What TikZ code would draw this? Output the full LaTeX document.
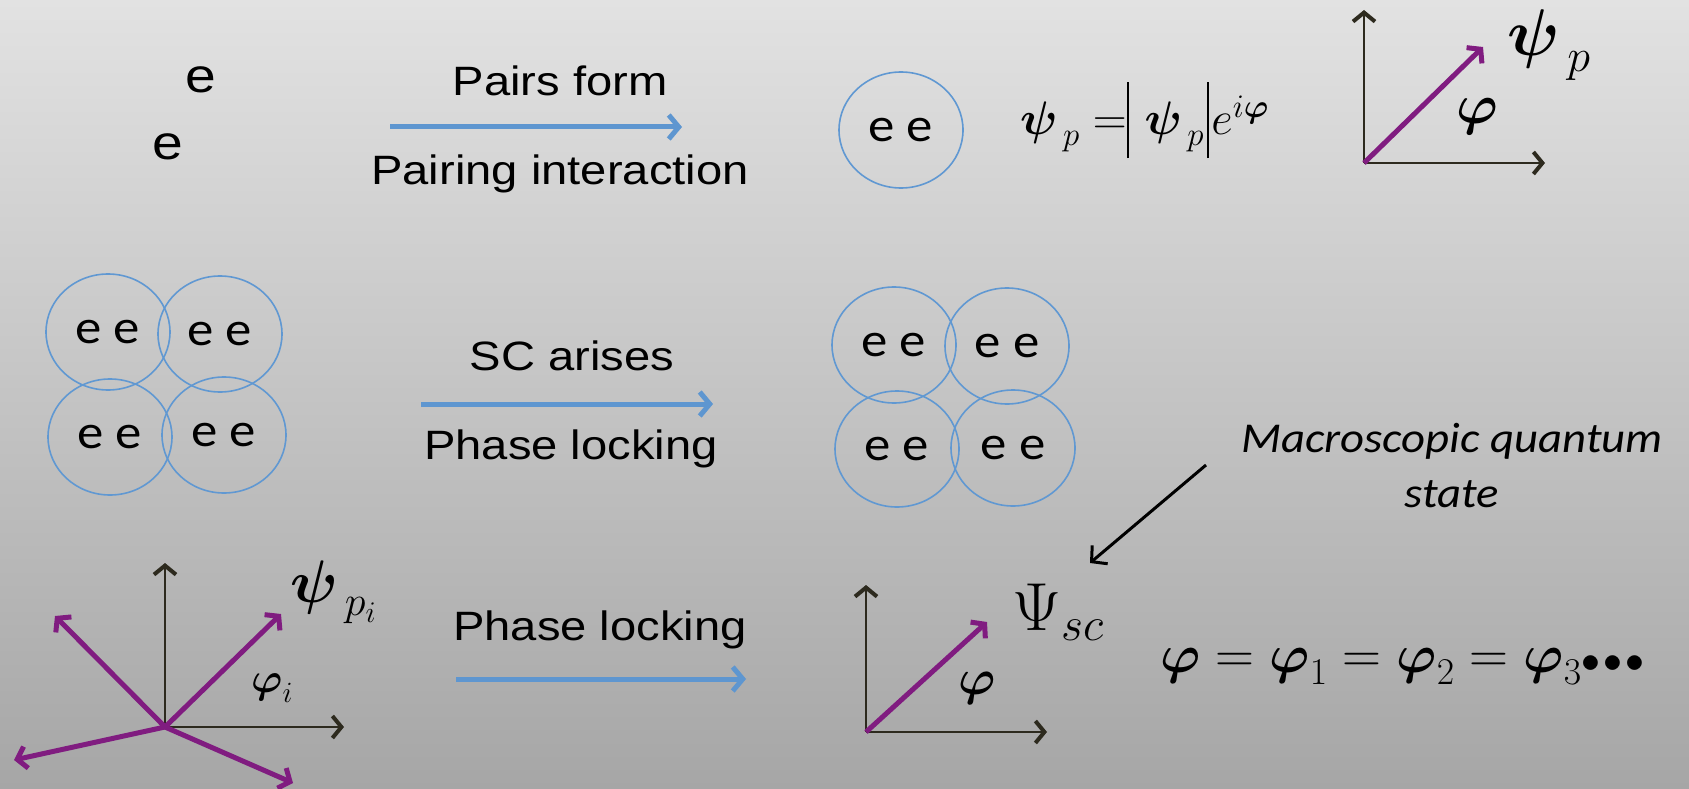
\RequirePackage{fix-cm}
\documentclass[tikz,border=0pt]{standalone}
\usepackage{amsmath}
\usepackage{fontspec}
\setmainfont{Liberation Sans}[FakeStretch=1.15]
\newfontfamily\pairfont{Carlito}[FakeStretch=1.1]
\usetikzlibrary{positioning}
\usetikzlibrary{shapes.geometric,arrows.meta}
\definecolor{bgtop}{RGB}{226,226,226}
\definecolor{bgbottom}{RGB}{166,166,166}
\definecolor{ringblue}{RGB}{96,152,210}
\definecolor{flowblue}{RGB}{94,150,208}
\definecolor{phasepurple}{RGB}{128,28,128}
\definecolor{axisdark}{RGB}{45,42,30}
\newcommand{\bpsi}{\boldsymbol{\psi}}
\newcommand{\bphi}{\boldsymbol{\varphi}}
\newcommand{\modbar}{\vrule width 2.2pt height 1.13em depth 0.49em}
\newcommand{\dotrow}{\mathord{\scriptstyle\bullet}\mkern1mu\mathord{\scriptstyle\bullet}\mkern1mu\mathord{\scriptstyle\bullet}}
\tikzset{
  pair/.style={ellipse, draw=ringblue, line width=1.6pt, minimum width=124pt, minimum height=116pt, inner sep=0pt, font=\pairfont\fontsize{48}{48}\selectfont},
  flow/.style={draw=flowblue, line width=5pt, -{Straight Barb[length=10pt,width=24pt]}},
  axisline/.style={draw=axisdark, line width=2pt, -{Straight Barb[length=9pt,width=22pt,line width=4pt]}},
  phase/.style={draw=phasepurple, line width=5pt, -{Straight Barb[length=9pt,width=22pt]}},
  phrase/.style={inner sep=0pt, font=\fontsize{41}{41}\selectfont},
  formula/.style={inner sep=0pt}
}

\begin{document}
\begin{tikzpicture}[x=1pt,y=-1pt]
    \useasboundingbox (0,0) rectangle (1689,789);
    \shade[top color=bgtop, bottom color=bgbottom] (0,0) rectangle (1689,789);

    % first row: two electrons form a pair
    \node[inner sep=0pt, font=\fontsize{48}{48}\selectfont] (eup) at (201,80) {e};
    \node[inner sep=0pt, font=\fontsize{48}{48}\selectfont] (edown) at (168,147) {e};

    \node[phrase, anchor=base] (pairsform) at (560,96) {Pairs form};
    \coordinate (formstart) at (390,127);
    \coordinate (formend) at (682,127);
    \draw[flow] (formstart) -- (formend);
    \node[phrase, anchor=base] (pairing) at (560,184) {Pairing interaction};

    \node[pair] (single) at (901,130) {e e};

    \node[formula, anchor=base west, font=\fontsize{47}{47}\selectfont] (psipair) at (1020,135) {$\bpsi_{\,p} = \modbar\mkern1mu\bpsi_{\,p}\mkern1mu\modbar\mkern1mu e^{i\bphi}$};

    \coordinate (toporigin) at (1364,163);
    \coordinate (topup) at (1364,10);
    \coordinate (topright) at (1545,163);
    \coordinate (toptip) at (1483,47);
    \draw[axisline] (toporigin) -- (topup);
    \draw[axisline] (toporigin) -- (topright);
    \draw[phase] (toporigin) -- (toptip);
    \node[formula, font=\fontsize{56}{56}\selectfont] (topphi) at (1477,117) {$\bphi$};
    \node[formula, anchor=base west, font=\fontsize{66}{66}\selectfont] (toppsi) at (1507,56) {$\bpsi_{\,p}$};

    % second row: the pairs lock their phase
    \node[pair] (lefttl) at (108,332) {e e};
    \node[pair] (lefttr) at (220,334) {e e};
    \node[pair] (leftbl) at (110,437) {e e};
    \node[pair] (leftbr) at (224,435) {e e};

    \node[phrase, anchor=base] (arises) at (572,370) {SC arises};
    \coordinate (arisestart) at (421,404);
    \coordinate (ariseend) at (713,404);
    \draw[flow] (arisestart) -- (ariseend);
    \node[phrase, anchor=base] (lockmid) at (571,459) {Phase locking};

    \node[pair] (righttl) at (894,345) {e e};
    \node[pair] (righttr) at (1007,346) {e e};
    \node[pair] (rightbl) at (897,449) {e e};
    \node[pair] (rightbr) at (1013,448) {e e};

    \node[formula, align=center, font=\pairfont\itshape\fontsize{42.5}{55}\selectfont] (macro) at (1452,466) {Macroscopic quantum\\state};

    % third row: random phases become one phase
    \coordinate (loworigin) at (165,727);
    \coordinate (lowup) at (165,563);
    \coordinate (lowright) at (344,727);
    \coordinate (lowtipa) at (281,614);
    \coordinate (lowtipb) at (55,616);
    \coordinate (lowtipc) at (14,760);
    \coordinate (lowtipd) at (293,783);
    \draw[axisline] (loworigin) -- (lowup);
    \draw[axisline] (loworigin) -- (lowright);
    \foreach \tip in {lowtipa,lowtipb,lowtipc,lowtipd}
        \draw[phase] (loworigin) -- (\tip);
    \node[formula, anchor=base west, font=\fontsize{60}{60}\selectfont] (psiran) at (290,602) {$\bpsi_{\,p_i}$};
    \node[formula, font=\fontsize{42}{42}\selectfont] (phirand) at (272,688) {$\bphi_i$};

    \coordinate (lockstart) at (456,679);
    \coordinate (lockend) at (746,679);
    \draw[flow] (lockstart) -- (lockend);
    \node[phrase, anchor=base] (locklow) at (600,640) {Phase locking};

    \coordinate (scorigin) at (866,732);
    \coordinate (scup) at (866,585);
    \coordinate (scright) at (1047,732);
    \coordinate (sctip) at (987,622);
    \draw[axisline] (scorigin) -- (scup);
    \draw[axisline] (scorigin) -- (scright);
    \draw[phase] (scorigin) -- (sctip);
    \node[formula, font=\fontsize{50}{50}\selectfont] (scphi) at (977,688) {$\bphi$};
    \node[formula, anchor=base west, font=\fontsize{68}{68}\selectfont] (scpsi) at (1012,630) {$\Psi_{sc}$};

    \coordinate (macrostart) at (1206,465);
    \coordinate (macroend) at (1090,563);
    \draw[line width=3pt, -{Straight Barb[length=11pt,width=24pt]}] (macrostart) -- (macroend);

    \node[formula, anchor=base west, font=\fontsize{54}{54}\selectfont] (equal) at (1160,672) {$\bphi = \bphi_1 = \bphi_2 = \bphi_3 \dotrow$};
\end{tikzpicture}
\end{document}
